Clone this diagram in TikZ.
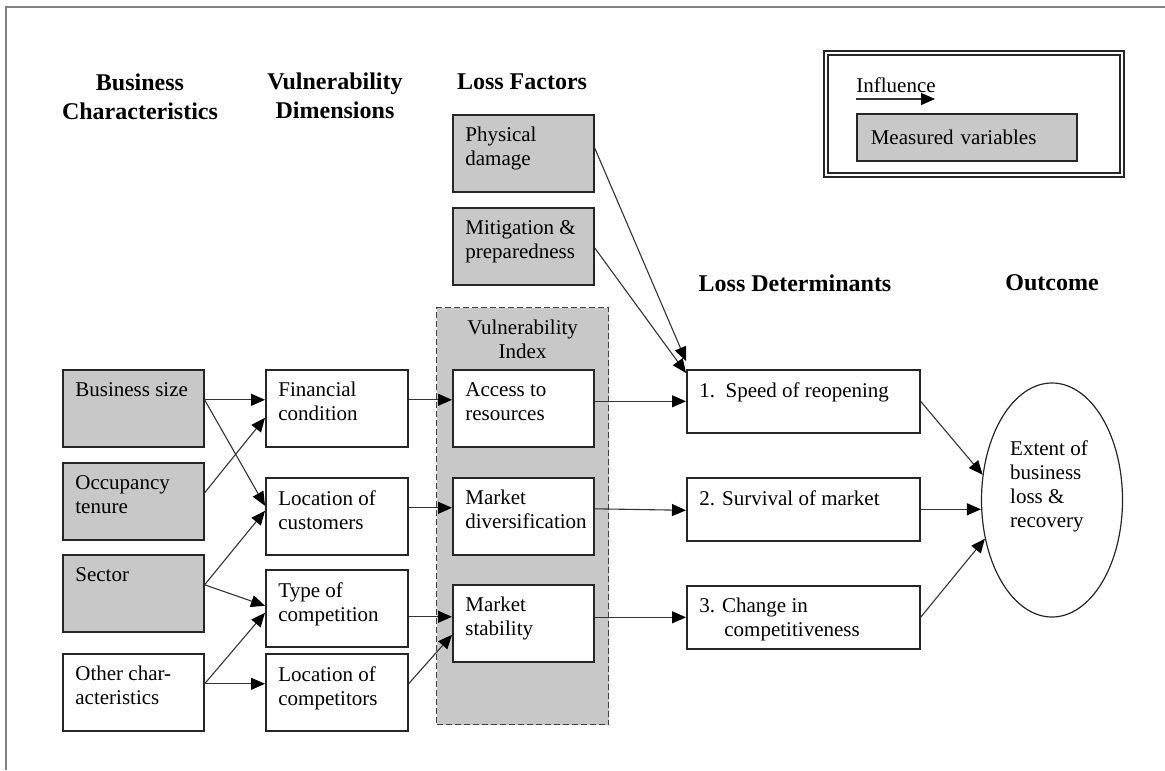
\documentclass[tikz,border=0pt]{standalone}
\usepackage{fontspec}
\setmainfont{Liberation Serif}
\usetikzlibrary{arrows.meta,positioning,shapes.geometric}
\definecolor{boxgray}{RGB}{200,200,200}

\begin{document}
\begin{tikzpicture}[x=0.5pt, y=-0.5pt,
  font=\fontsize{10.5}{12}\selectfont,
  hd/.style={font=\fontsize{12}{14.5}\selectfont\bfseries, align=center, anchor=north, inner sep=0},
  box/.style={draw=black!85, line width=0.8pt, fill=white, anchor=north west,
    minimum width=70.5pt, minimum height=38.5pt, inner sep=0},
  gbox/.style={box, fill=boxgray},
  ldbox/.style={box, minimum width=116.5pt, minimum height=31.5pt},
  txt/.style={anchor=north west, inner sep=0, xshift=6.5pt, yshift=-6.5pt, align=left},
  arr/.style={-{Triangle[length=7pt, width=6pt, color=black]}, line width=0.55pt, draw=black!80}]
\useasboundingbox (0,0) rectangle (1165,770);

% page edge
\draw[black!50, line width=1pt] (6,770) -- (6,7) -- (1165,7);

% column heads
\node[hd] (bizhd) at (140,73) {Business\\Characteristics};
\node[hd] (vulhd) at (335,72) {Vulnerability\\Dimensions};
\node[hd] (lfhd) at (522,73) {Loss Factors};
\node[hd] (ldhd) at (795,274) {Loss Determinants};
\node[hd] (outhd) at (1052,274) {Outcome};

% legend
\node[draw=black!85, double, line width=0.7pt, double distance=1.3pt,
  minimum width=148pt, minimum height=61pt] (legend) at (974,114) {};
\node[anchor=base west, inner sep=0] (inftxt) at (856,93) {Influence};
\coordinate (inf1) at (856,99);
\coordinate (inf2) at (935,99);
\draw[arr] (inf1) -- (inf2);
\node[gbox, minimum width=110pt, minimum height=23.5pt, text width=96pt,
  inner xsep=7pt, align=left] (meas) at (856,113) {Measured variables};

% business characteristics
\node[gbox, label={[txt]north west:Business size}] (size) at (62,369) {};
\node[gbox, label={[txt]north west:Occupancy\\tenure}] (tenure) at (62,462) {};
\node[gbox, label={[txt]north west:Sector}] (sector) at (62,554) {};
\node[box, label={[txt]north west:Other char-\\acteristics}] (other) at (62,653) {};

% vulnerability dimensions
\node[box, minimum width=71pt, label={[txt]north west:Financial\\condition}] (fin) at (265,369) {};
\node[box, minimum width=71pt, label={[txt]north west:Location of\\customers}] (cust) at (265,477) {};
\node[box, minimum width=71pt, label={[txt]north west:Type of\\competition}] (comp) at (265,569) {};
\node[box, minimum width=71pt, label={[txt]north west:Location of\\competitors}] (compl) at (265,653) {};

% vulnerability index
\node[draw=black!75, fill=boxgray, dash pattern=on 3pt off 1.5pt, line width=0.6pt,
  anchor=north west, minimum width=86pt, minimum height=208.5pt, inner sep=0,
  label={[anchor=north, align=center, inner sep=0, yshift=-6.5pt]north:Vulnerability\\Index}] (vi) at (436,307) {};
\node[box, label={[txt]north west:Access to\\resources}] (access) at (452,369) {};
\node[box, label={[txt]north west:Market\\diversification}] (div) at (452,477) {};
\node[box, label={[txt]north west:Market\\stability}] (stab) at (452,584) {};

% loss factors
\node[gbox, label={[txt]north west:Physical\\damage}] (phys) at (452,114) {};
\node[gbox, label={[txt]north west:Mitigation \&\\preparedness}] (mitig) at (452,207) {};

% loss determinants
\node[ldbox, label={[txt]north west:1.\ \ Speed of reopening}] (speed) at (686,369) {};
\node[ldbox, label={[txt]north west:2. Survival of market}] (surv) at (686,477) {};
\node[ldbox, label={[txt]north west:3. Change in\\\hspace*{12.5pt}competitiveness}] (change) at (686,585) {};

% outcome
\node[draw=black!85, line width=0.6pt, ellipse, minimum width=70.5pt, minimum height=117pt, inner sep=0,
  label={[anchor=center, align=left, inner sep=0, xshift=-1.5pt, yshift=6.75pt]center:Extent of\\business\\loss \&\\recovery}] (out) at (1052,500) {};

% influences
\draw[arr] ([yshift=4.25pt]size.east) -- ([yshift=4.25pt]fin.west);
\draw[arr] ([yshift=4.25pt]size.east) -- ([yshift=5.25pt]cust.west);
\draw[arr] ([yshift=4.25pt]tenure.east) -- ([yshift=-4.75pt]fin.west);
\draw[arr] ([yshift=4.25pt]sector.east) -- ([yshift=2.75pt]cust.west);
\draw[arr] ([yshift=4.25pt]sector.east) -- ([yshift=1.25pt]comp.west);
\draw[arr] ([yshift=4.25pt]other.east) -- ([yshift=-2.25pt]comp.west);
\draw[arr] ([yshift=4.25pt]other.east) -- ([yshift=4.25pt]compl.west);

\draw[arr] ([yshift=4.25pt]fin.east) -- ([yshift=4.25pt]access.west);
\draw[arr] ([yshift=4.25pt]cust.east) -- ([yshift=4.25pt]div.west);
\draw[arr] ([yshift=-4.25pt]comp.east) -- ([yshift=3.25pt]stab.west);
\draw[arr] ([yshift=4.25pt]compl.east) -- ([yshift=-5.75pt]stab.west);

\draw[arr] ([yshift=2.75pt]phys.east) -- ([yshift=4pt]speed.north west);
\draw[arr] ([yshift=-0.75pt]mitig.east) -- ([yshift=-2pt]speed.north west);
\draw[arr] ([yshift=3.5pt]access.east) -- (speed.west);
\draw[arr] ([yshift=3.75pt]div.east) -- ([yshift=-0.5pt]surv.west);
\draw[arr] ([yshift=3pt]stab.east) -- (change.west);

\draw[arr] (speed.east) -- (out.160);
\draw[arr] (surv.east) -- (surv.east -| out.west);
\draw[arr] (change.east) -- (out.210);
\end{tikzpicture}
\end{document}
